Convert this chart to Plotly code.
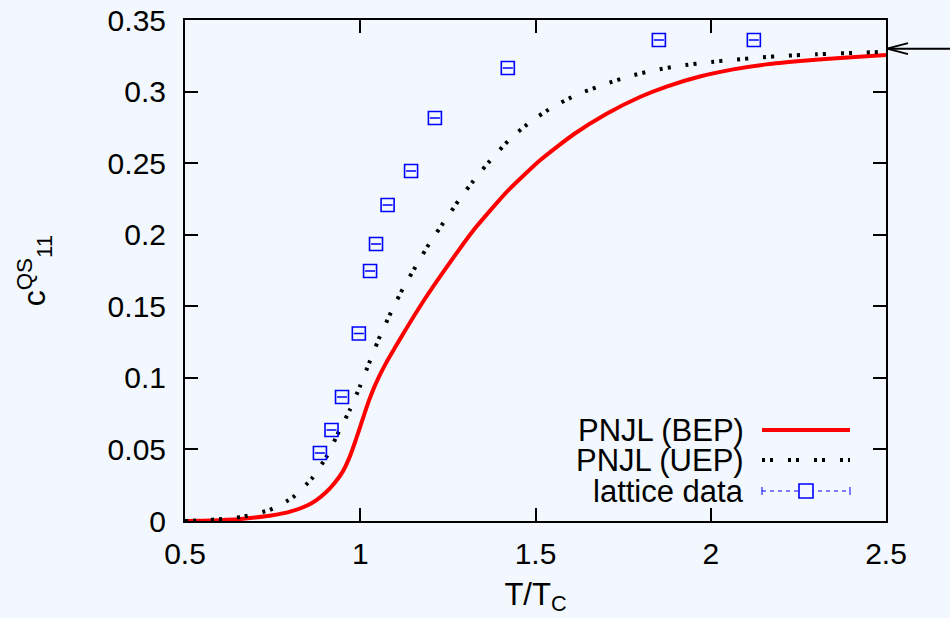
import plotly.graph_objects as go

# PNJL model, bounded effective potential (BEP)
bep_t = [0.5, 0.55, 0.6, 0.65, 0.7, 0.75, 0.8, 0.85, 0.876, 0.9, 0.925, 0.95, 0.971, 0.985,
         1.0, 1.01, 1.02, 1.03, 1.04, 1.05, 1.06, 1.075, 1.1, 1.123, 1.18, 1.237, 1.3225,
         1.418, 1.513, 1.608, 1.703, 1.798, 1.874, 1.969, 2.064, 2.16, 2.255, 2.38, 2.5]
bep_c = [0.0, 0.0002, 0.0006, 0.0012, 0.0024, 0.004, 0.0066, 0.011, 0.0148, 0.0195, 0.026,
         0.0345, 0.0455, 0.055, 0.066, 0.0735, 0.0808, 0.0875, 0.0935, 0.0990, 0.1040, 0.111,
         0.1215, 0.131, 0.1535, 0.1740, 0.2030, 0.2300, 0.2520, 0.2700, 0.2845, 0.2962, 0.3035,
         0.3105, 0.3155, 0.3190, 0.3213, 0.3237, 0.3256]

# PNJL model, unbounded effective potential (UEP)
uep_t = [0.5, 0.55, 0.608, 0.665, 0.742, 0.808, 0.863, 0.904, 0.942, 0.971, 0.999, 1.028,
         1.056, 1.09, 1.123, 1.161, 1.2, 1.242, 1.285, 1.332, 1.38, 1.432, 1.489, 1.551,
         1.618, 1.696, 1.765, 1.836, 1.912, 1.986, 2.064, 2.139, 2.212, 2.3, 2.426, 2.5]
uep_c = [0.0, 0.0005, 0.0014, 0.003, 0.0078, 0.0165, 0.030, 0.045, 0.064, 0.078, 0.094, 0.112,
         0.129, 0.147, 0.163, 0.179, 0.195, 0.210, 0.2254, 0.2405, 0.2545, 0.2680, 0.2795, 0.2895,
         0.2978, 0.3050, 0.3105, 0.3148, 0.3180, 0.3203, 0.3222, 0.3238, 0.3250, 0.3260, 0.3272, 0.3278]

# Lattice QCD data
lat_t = [0.885, 0.918, 0.948, 0.996, 1.028, 1.045, 1.078, 1.145, 1.213, 1.421, 1.852, 2.123]
lat_c = [0.0475, 0.0636, 0.0866, 0.131, 0.1747, 0.1935, 0.2208, 0.2445, 0.2815, 0.3165, 0.336, 0.336]
lat_err = [0.0001] * len(lat_t)

# Ideal-gas limit marked by the arrow on the right
limit_c = 0.33

x_ticks = [0.5, 1, 1.5, 2, 2.5]
x_ticktext = ["0.5", "1", "1.5", "2", "2.5"]
y_ticks = [0, 0.05, 0.1, 0.15, 0.2, 0.25, 0.3, 0.35]
y_ticktext = ["0", "0.05", "0.1", "0.15", "0.2", "0.25", "0.3", "0.35"]

legend_labels = ["PNJL (BEP)", "PNJL (UEP)", "lattice data"]

FONT = "Liberation Sans, Arial, sans-serif"
FS = 31
BG = "#f2f8fd"
RED = "#ff0000"
BLUE = "#0000ff"
DOTS = "3px,5px,3px,15px"

fig = go.Figure()

fig.add_trace(go.Scatter(
    x=bep_t, y=bep_c, mode="lines", name=legend_labels[0],
    line=dict(color=RED, width=4, shape="spline", smoothing=0.5),
    showlegend=False, hoverinfo="skip",
))
fig.add_trace(go.Scatter(
    x=uep_t, y=uep_c, mode="lines", name=legend_labels[1],
    line=dict(color="black", width=4, dash=DOTS, shape="spline", smoothing=0.5),
    showlegend=False, hoverinfo="skip",
))
fig.add_trace(go.Scatter(
    x=lat_t, y=lat_c, mode="markers", name=legend_labels[2],
    marker=dict(symbol="square-open", size=13, color=BLUE, line=dict(width=1.6, color=BLUE)),
    error_y=dict(type="data", array=lat_err, visible=True, color=BLUE, thickness=1.3, width=5),
    showlegend=False, hoverinfo="skip",
))

# Plot area geometry (pixels) used to place the hand-built key in paper units
L, R, T, B = 185, 886, 20, 521
W, H = R - L, B - T


def px(xpix):
    return (xpix - L) / W


def py(ypix):
    return (B - ypix) / H


shapes = []
annotations = []

# Key: labels on the left, line samples on the right
rows = [430, 460, 491]
for lab, yy in zip(legend_labels, rows):
    annotations.append(dict(
        text=lab, xref="paper", yref="paper", x=px(745), y=py(yy),
        xanchor="right", yanchor="middle", showarrow=False, borderpad=0,
        font=dict(family=FONT, size=FS, color="black"),
    ))

x0s, x1s = px(762), px(850)
shapes.append(dict(type="line", xref="paper", yref="paper", x0=x0s, x1=x1s,
                   y0=py(rows[0]), y1=py(rows[0]), line=dict(color=RED, width=4)))
shapes.append(dict(type="line", xref="paper", yref="paper", x0=x0s, x1=x1s,
                   y0=py(rows[1]), y1=py(rows[1]), line=dict(color="black", width=4, dash=DOTS)))
shapes.append(dict(type="line", xref="paper", yref="paper", x0=x0s, x1=x1s,
                   y0=py(rows[2]), y1=py(rows[2]), line=dict(color=BLUE, width=1, dash="4px,4px")))
for xe in (762, 850):
    shapes.append(dict(type="line", xref="paper", yref="paper", x0=px(xe), x1=px(xe),
                       y0=py(rows[2] - 4), y1=py(rows[2] + 4), line=dict(color=BLUE, width=1)))
shapes.append(dict(type="rect", xref="paper", yref="paper",
                   x0=px(799), x1=px(813), y0=py(rows[2] + 7), y1=py(rows[2] - 7),
                   line=dict(color=BLUE, width=1.6), fillcolor=BG))

# Arrow pointing at the asymptotic value on the right-hand axis
y_arrow_pix = B - limit_c / 0.35 * H
shapes.append(dict(type="line", xref="paper", yref="paper", x0=px(888), x1=px(950),
                   y0=py(y_arrow_pix), y1=py(y_arrow_pix), line=dict(color="black", width=2)))
for dy in (-5.5, 5.5):
    shapes.append(dict(type="line", xref="paper", yref="paper", x0=px(887), x1=px(908),
                       y0=py(y_arrow_pix), y1=py(y_arrow_pix + dy), line=dict(color="black", width=2)))

axis_common = dict(
    showline=True, linecolor="black", linewidth=2, mirror="ticks",
    ticks="inside", ticklen=13, tickwidth=1.5, tickcolor="black",
    showgrid=False, zeroline=False,
    tickfont=dict(family=FONT, size=FS - 1, color="black"),
)

fig.update_layout(
    width=950, height=618,
    margin=dict(l=L, r=950 - R, t=T, b=618 - B),
    paper_bgcolor=BG, plot_bgcolor=BG,
    font=dict(family=FONT, size=FS, color="black"),
    xaxis=dict(range=[0.5, 2.5], tickvals=x_ticks, ticktext=x_ticktext,
               title=dict(text="T/T<sub>C</sub>", font=dict(family=FONT, size=FS), standoff=14),
               ticklabelstandoff=5, automargin=False, **axis_common),
    yaxis=dict(range=[0, 0.35], tickvals=y_ticks, ticktext=y_ticktext,
               title=dict(text="c<sup>QS</sup><sub>11</sub>", font=dict(family=FONT, size=FS + 1), standoff=52),
               ticklabelstandoff=11, automargin=False, **axis_common),
    shapes=shapes,
    annotations=annotations,
)

fig.write_html("out.html")
